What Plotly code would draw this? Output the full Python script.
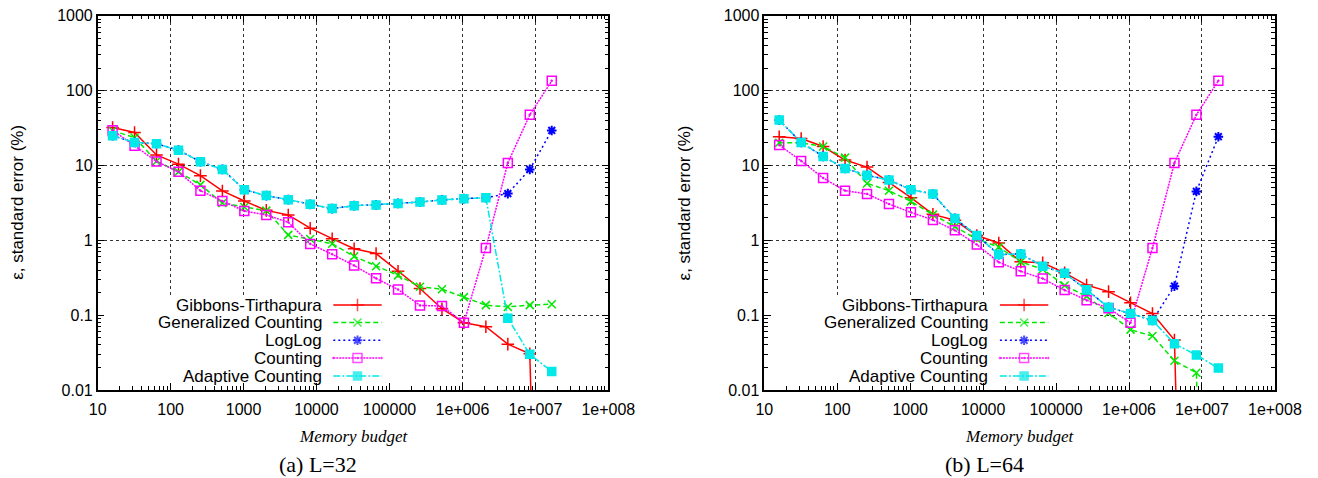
import plotly.graph_objects as go

# ---------------- data ----------------
memory = [16, 32, 64, 128, 256, 512, 1024, 2048, 4096, 8192, 16384, 32768, 65536,
          131072, 262144, 524288, 1048576, 2097152, 4194304, 8388608, 16777216]

series_names = ["Gibbons-Tirthapura", "Generalized Counting", "LogLog", "Counting", "Adaptive Counting"]

# (a) L=32
gt_32 = [32, 27.5, 13.8, 10.4, 7.3, 4.56, 3.35, 2.51, 2.18, 1.45, 1.05, 0.77, 0.665,
         0.386, 0.227, 0.122, 0.079, 0.07, 0.041, 0.0305, 1e-12]
gc_32 = [29, 23.6, 11.4, 8.2, 5.5, 3.15, 2.79, 2.49, 1.18, 1.04, 0.90, 0.61, 0.45,
         0.34, 0.24, 0.222, 0.174, 0.136, 0.129, 0.136, 0.14]
ll_32 = [24.9, 20.3, 19.5, 16.0, 11.2, 8.85, 4.74, 3.95, 3.49, 3.02, 2.65, 2.9, 2.97,
         3.11, 3.25, 3.46, 3.6, 3.7, 4.2, 8.85, 29.3]
ct_32 = [29.6, 18.3, 11.3, 8.2, 4.6, 3.35, 2.46, 2.18, 1.74, 0.895, 0.65, 0.46, 0.31,
         0.22, 0.135, 0.132, 0.079, 0.79, 10.8, 47.4, 135]
ac_32 = [24.9, 20.3, 19.5, 16.0, 11.2, 8.85, 4.74, 3.95, 3.49, 3.02, 2.65, 2.9, 2.97,
         3.11, 3.25, 3.46, 3.6, 3.7, 0.091, 0.030, 0.0177]

# (b) L=64
gt_64 = [24.2, 22.9, 17.9, 11.8, 9.5, 5.93, 3.71, 2.22, 1.85, 1.16, 0.92, 0.515, 0.50,
         0.367, 0.252, 0.206, 0.146, 0.105, 0.0465, 1e-12, None]
gc_64 = [20.1, 20.1, 17.9, 12.7, 5.75, 4.6, 3.31, 2.2, 1.52, 1.04, 0.81, 0.515, 0.41,
         0.249, 0.178, 0.107, 0.064, 0.0525, 0.0246, 0.017, 1e-12]
ll_64 = [40.3, 20.3, 13.2, 9.1, 7.37, 6.38, 4.74, 4.16, 1.96, 1.16, 0.644, 0.658, 0.45,
         0.363, 0.218, 0.127, 0.105, 0.085, 0.244, 4.5, 24.2]
ct_64 = [18.7, 11.5, 6.8, 4.6, 4.16, 3.05, 2.36, 1.87, 1.36, 0.877, 0.51, 0.386, 0.308,
         0.216, 0.158, 0.124, 0.079, 0.79, 10.8, 47.4, 135]
ac_64 = [40.3, 20.3, 13.2, 9.1, 7.37, 6.38, 4.74, 4.16, 1.96, 1.16, 0.644, 0.658, 0.45,
         0.363, 0.218, 0.127, 0.105, 0.085, 0.0416, 0.0293, 0.0196]

x_tickvals = [10, 100, 1000, 10000, 100000, 1e6, 1e7, 1e8]
x_ticktext = ["10", "100", "1000", "10000", "100000", "1e+006", "1e+007", "1e+008"]
y_tickvals = [0.01, 0.1, 1, 10, 100, 1000]
y_ticktext = ["0.01", "0.1", "1", "10", "100", "1000"]

captions = ["(a) L=32", "(b) L=64"]
x_title = "Memory budget"
y_title = "ε, standard error (%)"

# ---------------- layout constants (page pixels) ----------------
PAGE_W, PAGE_H = 1318, 478
OFF = 8                      # default body margin of the html page
W, H = PAGE_W - OFF, PAGE_H - OFF
PLOT_LEFT = [97.7, 764.3]
PLOT_W = 510.6
PLOT_TOP, PLOT_BOTTOM = 15.7, 390.0
X_LOG_MIN, X_LOG_MAX = 1, 8
Y_LOG_MIN, Y_LOG_MAX = -2, 3


def fx(px):
    return (px - OFF) / W


def fy(py):
    return 1 - (py - OFF) / H


styles = [
    dict(color="#ff0000", dash="solid", symbol="cross-thin", size=9, lw=1.5),
    dict(color="#00e800", dash="5px,3px", symbol="x-thin", size=8, lw=1.5),
    dict(color="#0000ff", dash="2px,3px", symbol="asterisk", size=8, lw=2),
    dict(color="#ff00ff", dash="2px,1px", symbol="square-open-dot", size=9, lw=1.5),
    dict(color="#00e8e8", dash="7px,2px,2px,2px", symbol="square", size=8, lw=1.5),
]

SANS = "Liberation Sans, Arial, sans-serif"
SERIF = "Liberation Serif, Times New Roman, serif"


def px_to_x(px, left):
    return 10 ** (X_LOG_MIN + (px - left) / PLOT_W * (X_LOG_MAX - X_LOG_MIN))


def py_to_y(py):
    return 10 ** (Y_LOG_MAX - (py - PLOT_TOP) / (PLOT_BOTTOM - PLOT_TOP) * (Y_LOG_MAX - Y_LOG_MIN))


fig = go.Figure()

panels = [
    ("x", "y", [gt_32, gc_32, ll_32, ct_32, ac_32]),
    ("x2", "y2", [gt_64, gc_64, ll_64, ct_64, ac_64]),
]
for xa, ya, sers in panels:
    for name, vals, st in zip(series_names, sers, styles):
        fig.add_trace(go.Scatter(
            x=memory, y=vals, xaxis=xa, yaxis=ya, name=name, showlegend=False,
            mode="lines+markers",
            line=dict(color=st["color"], width=1.5, dash=st["dash"]),
            marker=dict(symbol=st["symbol"], size=st["size"], color=st["color"],
                        line=dict(color=st["color"], width=st["lw"])),
        ))

# ---------------- custom legends (gnuplot style: text left, sample on right) ----------------
LEG_TEXT_DX = 225.0
LEG_LINE_DX0, LEG_LINE_DX1 = 235.6, 284.0
LEG_ROWS = [305.0, 322.5, 340.3, 358.0, 376.0]
KEY_BOX_W = 295.0
KEY_BOX_TOP = 296.0

annotations = []
shapes = []
for (xa, ya, _), pl in zip(panels, PLOT_LEFT):
    # opaque key box
    shapes.append(dict(type="rect", xref=xa, yref=ya,
                       x0=px_to_x(pl + 1, pl), x1=px_to_x(pl + KEY_BOX_W, pl),
                       y0=py_to_y(PLOT_BOTTOM - 1), y1=py_to_y(KEY_BOX_TOP),
                       fillcolor="white", line=dict(width=0), layer="between"))
    for name, st, ry in zip(series_names, styles, LEG_ROWS):
        x0, x1 = pl + LEG_LINE_DX0, pl + LEG_LINE_DX1
        xs = [px_to_x(x0, pl), px_to_x((x0 + x1) / 2, pl), px_to_x(x1, pl)]
        yv = py_to_y(ry)
        fig.add_trace(go.Scatter(
            x=xs, y=[yv, yv, yv], xaxis=xa, yaxis=ya,
            mode="lines+markers", showlegend=False, hoverinfo="skip",
            line=dict(color=st["color"], width=1.5, dash=st["dash"]),
            marker=dict(symbol=st["symbol"], size=[0, st["size"], 0], color=st["color"],
                        line=dict(color=st["color"], width=st["lw"])),
        ))
        annotations.append(dict(x=fx(pl + LEG_TEXT_DX), y=fy(ry), xref="paper", yref="paper",
                                text=name, showarrow=False, xanchor="right", yanchor="middle",
                                borderpad=0,
                                font=dict(family=SANS, size=17, color="black")))

# titles / captions
Y_TITLE_X = [18.0, 684.6]
CAPTION_X = [317.5, 984.0]
for i, pl in enumerate(PLOT_LEFT):
    annotations.append(dict(x=fx(Y_TITLE_X[i]), y=fy((PLOT_TOP + PLOT_BOTTOM) / 2),
                            xref="paper", yref="paper",
                            text=y_title, textangle=-90, showarrow=False,
                            xanchor="center", yanchor="middle", borderpad=0,
                            font=dict(family=SANS, size=17, color="black")))
    annotations.append(dict(x=fx(pl + PLOT_W / 2), y=fy(436.5), xref="paper", yref="paper",
                            text="<i>" + x_title + "</i>", showarrow=False,
                            xanchor="center", yanchor="middle", borderpad=0,
                            font=dict(family=SERIF, size=17, color="black")))
    annotations.append(dict(x=fx(CAPTION_X[i]), y=fy(464.0), xref="paper", yref="paper",
                            text=captions[i], showarrow=False,
                            xanchor="center", yanchor="middle", borderpad=0,
                            font=dict(family=SERIF, size=22, color="black")))

minor_x = [k * 10 ** d for d in range(1, 8) for k in range(2, 10)]
minor_y = [k * 10.0 ** d for d in range(-2, 3) for k in range(2, 10)]

common_x = dict(type="log", range=[X_LOG_MIN, X_LOG_MAX], tickmode="array",
                tickvals=x_tickvals, ticktext=x_ticktext,
                ticks="inside", ticklen=7, tickwidth=1, tickcolor="black",
                showline=True, linecolor="black", linewidth=1.5, mirror="ticks",
                showgrid=True, gridcolor="#333333", gridwidth=1, griddash="dot",
                minor=dict(tickmode="array", tickvals=minor_x, ticks="inside", ticklen=4,
                           tickcolor="black", showgrid=False),
                tickfont=dict(family=SANS, size=16, color="black"),
                ticklabelstandoff=4, ticklabeloverflow="allow",
                zeroline=False, fixedrange=True, automargin=False)
common_y = dict(type="log", range=[Y_LOG_MIN, Y_LOG_MAX], tickmode="array",
                tickvals=y_tickvals, ticktext=y_ticktext,
                ticks="inside", ticklen=7, tickwidth=1, tickcolor="black",
                showline=True, linecolor="black", linewidth=1.5, mirror="ticks",
                showgrid=True, gridcolor="#333333", gridwidth=1, griddash="dot",
                minor=dict(tickmode="array", tickvals=minor_y, ticks="inside", ticklen=4,
                           tickcolor="black", showgrid=False),
                tickfont=dict(family=SANS, size=16, color="black"),
                ticklabeloverflow="allow",
                zeroline=False, fixedrange=True, automargin=False,
                domain=[fy(PLOT_BOTTOM), fy(PLOT_TOP)])

fig.update_layout(
    width=W, height=H,
    margin=dict(l=0, r=0, t=0, b=0, pad=0, autoexpand=False),
    paper_bgcolor="white", plot_bgcolor="white",
    xaxis=dict(common_x, domain=[fx(PLOT_LEFT[0]), fx(PLOT_LEFT[0] + PLOT_W)], anchor="y"),
    yaxis=dict(common_y, anchor="x"),
    xaxis2=dict(common_x, domain=[fx(PLOT_LEFT[1]), fx(PLOT_LEFT[1] + PLOT_W)], anchor="y2"),
    yaxis2=dict(common_y, anchor="x2"),
    annotations=annotations,
    shapes=shapes,
    showlegend=False,
)

fig.write_html("out.html")
